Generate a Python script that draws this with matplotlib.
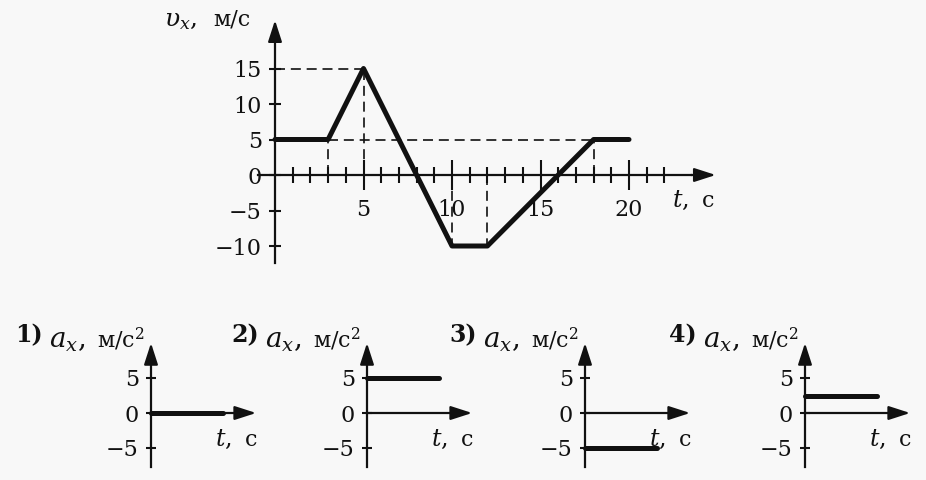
import matplotlib
matplotlib.use("Agg")
import matplotlib.pyplot as plt

plt.rcParams['font.family'] = ['DejaVu Serif']
plt.rcParams['mathtext.fontset'] = 'dejavuserif'

# ---------------- data ----------------
t_main = [0, 3, 5, 10, 12, 18, 20]          # s
v_main = [5, 5, 15, -10, -10, 5, 5]         # m/s
main_xticks = [5, 10, 15, 20]
main_minor = list(range(1, 23))
main_yticks = [-10, -5, 0, 5, 10, 15]
main_sym = "$\\upsilon_x$,"
main_unit = "м/с"
time_sym = "$t$,"
time_unit = "с"

options = ["1)", "2)", "3)", "4)"]
accel_values = [0, 5, -5, 2.5]              # m/s^2
accel_span = [0, 10]
small_yticks = [-5, 0, 5]
small_sym = "$a_x$,"
small_unit = "м/с$^2$"

BG = "#f8f8f8"
INK = "#111111"
W, H = 926, 480

fig = plt.figure(figsize=(W / 100, H / 100), dpi=100)
fig.patch.set_facecolor(BG)


def px_axes(x0, xs, xlim, y0, ys, ylim):
    left = x0 + xs * xlim[0]
    right = x0 + xs * xlim[1]
    top = y0 - ys * ylim[1]
    bottom = y0 - ys * ylim[0]
    ax = fig.add_axes([left / W, 1 - bottom / H, (right - left) / W, (bottom - top) / H])
    ax.set_xlim(xlim)
    ax.set_ylim(ylim)
    ax.patch.set_visible(False)
    return ax


def fig_text(xpx, ypx, s, **kw):
    kw.setdefault("color", INK)
    kw.setdefault("va", "baseline")
    return fig.text(xpx / W, 1 - ypx / H, s, **kw)


def setup_axes(ax, xb, yb, xtip, ytip, lw=1.6):
    for s in ("top", "right"):
        ax.spines[s].set_visible(False)
    ax.spines["left"].set_position(("data", 0))
    ax.spines["bottom"].set_position(("data", 0))
    ax.spines["left"].set_bounds(yb[0], yb[1])
    ax.spines["bottom"].set_bounds(xb[0], xb[1])
    for s in ("left", "bottom"):
        ax.spines[s].set_linewidth(lw)
        ax.spines[s].set_color(INK)
    ap = dict(arrowstyle="-|>,head_length=1.3,head_width=0.42", color=INK, lw=lw,
              shrinkA=0, shrinkB=0)
    ax.annotate("", xy=(xtip, 0), xytext=(xb[1], 0), arrowprops=ap, annotation_clip=False)
    ax.annotate("", xy=(0, ytip), xytext=(0, yb[1]), arrowprops=ap, annotation_clip=False)


# ---------------- main velocity chart ----------------
xs_m, ys_m = 17.7, 7.1
ax = px_axes(275, xs_m, (-1.5, 26), 175, ys_m, (-13.5, 23))
setup_axes(ax, (-0.96, 23.5), (-12.4, 20.0), 24.9, 21.8)

ax.set_xticks(main_xticks)
ax.set_xticks(main_minor, minor=True)
ax.set_yticks(main_yticks)
ax.tick_params(axis="x", which="major", direction="inout", length=22, width=1.5,
               pad=6, labelsize=16, colors=INK)
ax.tick_params(axis="x", which="minor", direction="inout", length=11, width=1.5, colors=INK)
ax.tick_params(axis="y", which="major", direction="inout", length=9, width=1.5,
               pad=5, labelsize=16, colors=INK)

# dashed guide lines from the break points of the graph
dash = dict(color=INK, lw=1.2, ls=(0, (6, 3.5)))
i_peak = 2
ax.plot([0, t_main[i_peak]], [v_main[i_peak]] * 2, **dash)
ax.plot([t_main[1], t_main[5]], [v_main[1], v_main[5]], **dash)
for i in (1, 2, 3, 4, 5):
    ax.plot([t_main[i], t_main[i]], [0, v_main[i]], **dash)

ax.plot(t_main, v_main, color=INK, lw=3.6, solid_capstyle="round",
        solid_joinstyle="round", zorder=5)

fig_text(197, 26, main_sym, ha="right", fontsize=18)
fig_text(213, 26, main_unit, ha="left", fontsize=16)
fig_text(689, 207, time_sym, ha="right", fontsize=17)
fig_text(702, 207, time_unit, ha="left", fontsize=16)

# ---------------- answer options ----------------
axis_x = [151, 367, 585, 805]
xs_s, ys_s = 7.2, 7.0
for opt, a, x0 in zip(options, accel_values, axis_x):
    sa = px_axes(x0, xs_s, (-4, 17), 413, ys_s, (-9, 11.5))
    setup_axes(sa, (0, 12.5), (-7.7, 8.0), 14.6, 10.0)
    sa.set_xticks([])
    sa.set_yticks(small_yticks)
    sa.tick_params(axis="y", direction="inout", length=7.5, width=1.5, pad=5,
                   labelsize=16, colors=INK)
    sa.plot(accel_span, [a, a], color=INK, lw=3.6, solid_capstyle="round", zorder=5)
    fig_text(x0 - 66, 348, small_sym, ha="right", fontsize=20)
    fig_text(x0 - 54, 348, small_unit, ha="left", fontsize=16)
    fig_text(x0 - 108, 342, opt, ha="right", fontsize=17, fontweight="bold")
    fig_text(x0 + 81, 446, time_sym, ha="right", fontsize=17)
    fig_text(x0 + 94, 446, time_unit, ha="left", fontsize=16)

fig.savefig("out.png", dpi=100, facecolor=BG)
